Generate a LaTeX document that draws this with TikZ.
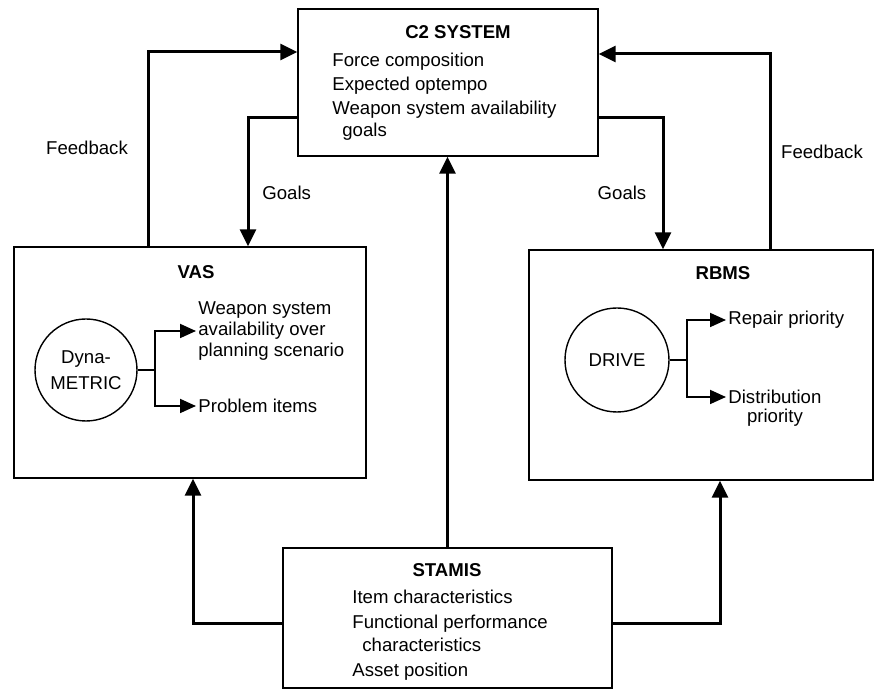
\documentclass[tikz,border=0pt]{standalone}
\usepackage{fontspec}
\setmainfont{Liberation Sans}
\usetikzlibrary{arrows.meta,positioning}

\tikzset{
  box/.style={draw,line width=0.7pt,inner sep=0pt},
  unit/.style={draw,circle,line width=0.7pt,inner sep=0pt,align=center,
    font=\fontsize{9.3}{13}\selectfont},
  flow/.style={line width=1.5pt,-{Triangle[length=8.5pt,width=8pt]}},
  branch/.style={line width=0.9pt,-{Triangle[length=8pt,width=7pt]}},
  lbl/.style={inner sep=0pt,anchor=west,align=left,font=\fontsize{9.3}{10.4}\selectfont},
  ttl/.style={inner sep=0pt,font=\fontsize{9.3}{11}\selectfont\bfseries},
}

\begin{document}
\begin{tikzpicture}[x=0.5pt,y=-0.5pt]
\useasboundingbox (0,0) rectangle (874,694);
\fill[white] (0,0) rectangle (874,694);

% riquadri
\node[box,minimum width=150pt,minimum height=73.5pt] (c2) at (448,82.5) {};
\node[box,minimum width=176pt,minimum height=115.5pt] (vas) at (190,362.5) {};
\node[box,minimum width=172pt,minimum height=115pt] (rbms) at (701,365) {};
\node[box,minimum width=164.5pt,minimum height=70pt] (stamis) at (447.5,618) {};

% C2 SYSTEM
\node[ttl] (c2t) at (458,32) {C2 SYSTEM};
\node[lbl] (c2a) at (332,62) {Force composition};
\node[lbl] (c2b) at (332,86) {Expected optempo};
\node[lbl] (c2c) at (332,110) {Weapon system availability};
\node[lbl] (c2d) at (342,132) {goals};

% VAS
\node[ttl] (vast) at (196,272) {VAS};
\node[unit,minimum size=51pt] (dyna) at (86,370) {Dyna-\\METRIC};
\node[lbl,inner sep=1pt] (vasA) at (196,331)
  {Weapon system\\availability over\\planning scenario};
\node[lbl,inner sep=1pt] (vasB) at (196,406) {Problem items};
\coordinate (jV) at (155,370);
\draw[line width=0.9pt] (dyna.east) -- (jV);
\draw[branch] (jV) |- (vasA.west);
\draw[branch] (jV) |- (vasB.west);

% RBMS
\node[ttl] (rbmst) at (723,273) {RBMS};
\node[unit,minimum size=52pt] (drive) at (617,360) {DRIVE};
\node[lbl,inner sep=1pt] (repA) at (726,320) {Repair priority};
\node[lbl,inner sep=1pt] (dis) at (726,397) {Distribution};
\node[lbl,below=1pt of dis] (disP) {priority};
\coordinate (jR) at (687,360);
\draw[line width=0.9pt] (drive.east) -- (jR);
\draw[branch] (jR) |- (repA.west);
\draw[branch] (jR) |- (dis.west);

% STAMIS
\node[ttl] (stt) at (447,570) {STAMIS};
\node[lbl] (sta) at (352,597) {Item characteristics};
\node[lbl] (stb) at (352,624) {Functional performance};
\node[lbl] (stc) at (362,645) {characteristics};
\node[lbl] (std) at (352,672) {Asset position};

% collegamenti
\coordinate (fbL) at (148,52);
\coordinate (glL) at (248,118);
\coordinate (glR) at (663,118);
\coordinate (fbR) at (770,54);
\coordinate (sL) at (193,624);
\coordinate (sR) at (720,624);
\draw[flow] (vas.north -| fbL) |- (c2.west |- fbL);
\draw[flow] (c2.west |- glL) -| (vas.north -| glL);
\draw[flow] (c2.east |- glR) -| (rbms.north -| glR);
\draw[flow] (rbms.north -| fbR) |- (c2.east |- fbR);
\draw[flow] (stamis.north) -- (stamis.north |- c2.south);
\draw[flow] (stamis.west |- sL) -| (vas.south -| sL);
\draw[flow] (stamis.east |- sR) -| (rbms.south -| sR);

% etichette
\node[lbl,anchor=center] (fbLt) at (87,148) {Feedback};
\node[lbl] (glLt) at (262,193) {Goals};
\node[lbl,anchor=center] (glRt) at (622,193) {Goals};
\node[lbl,anchor=center] (fbRt) at (822,152) {Feedback};
\end{tikzpicture}
\end{document}
